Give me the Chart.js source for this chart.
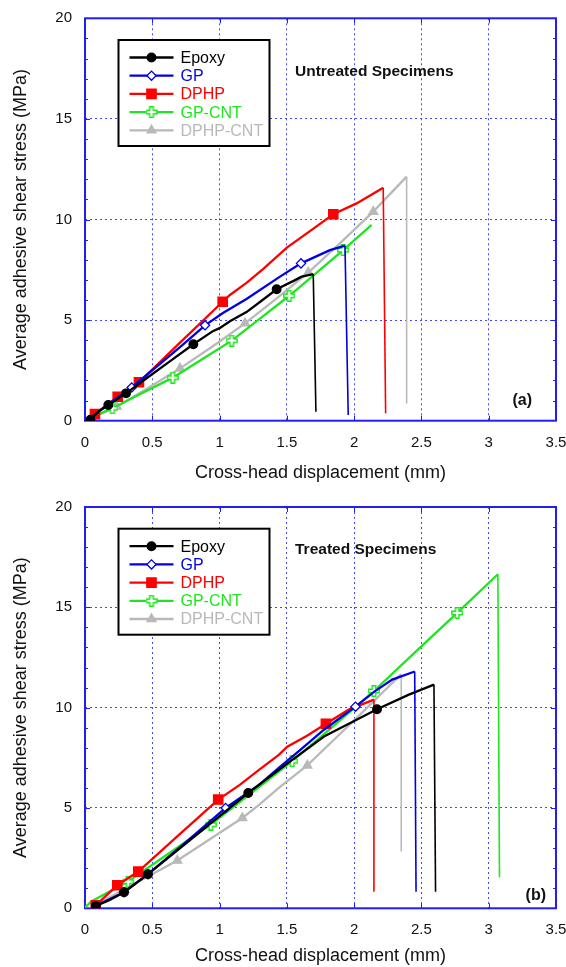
<!DOCTYPE html>
<html>
<head>
<meta charset="utf-8">
<script src="https://cdn.jsdelivr.net/npm/chart.js@4.4.1/dist/chart.umd.min.js"></script>
<style>
  body { margin: 0; background: #fff; width: 566px; height: 967px; position: relative; overflow: hidden; }
  canvas { position: absolute; left: 0; }
  #chartA { top: 0; }
  #chartB { top: 487px; }
</style>
</head>
<body>
<canvas id="chartA" width="566" height="487"></canvas>
<canvas id="chartB" width="566" height="480"></canvas>
<script>
// ---- (a) untreated specimens ----
const epoxyA_x = [0.04, 0.10, 0.173, 0.305, 0.45, 0.62, 0.805, 0.95, 1.0, 1.08, 1.2, 1.3, 1.424, 1.55, 1.61, 1.696, 1.716];
const epoxyA_y = [0.05, 0.45, 0.78, 1.36, 2.07, 2.9, 3.8, 4.45, 4.6, 4.95, 5.4, 5.9, 6.53, 6.95, 7.16, 7.29, 0.45];
const epoxyA_mk = [0, 2, 3, 6, 12];

const gpA_x = [0.05, 0.2, 0.347, 0.706, 0.892, 1.025, 1.2, 1.449, 1.605, 1.82, 1.932, 1.956];
const gpA_y = [0.2, 0.95, 1.65, 3.66, 4.74, 5.35, 6.05, 7.16, 7.82, 8.48, 8.7, 0.28];
const gpA_mk = [2, 4, 8];

const dphpA_x = [0.074, 0.243, 0.401, 0.706, 1.023, 1.077, 1.2, 1.325, 1.5, 1.7, 1.845, 2.018, 2.216, 2.234];
const dphpA_y = [0.33, 1.19, 1.91, 3.88, 5.91, 6.25, 6.85, 7.55, 8.6, 9.56, 10.26, 10.8, 11.58, 0.37];
const dphpA_mk = [0, 1, 2, 4, 10];

const gpcntA_x = [0.059, 0.203, 0.4, 0.652, 0.85, 1.09, 1.3, 1.518, 1.7, 1.919, 2.13];
const gpcntA_y = [0.2, 0.62, 1.29, 2.14, 2.97, 3.98, 5.07, 6.21, 7.24, 8.48, 9.73];
const gpcntA_mk = [1, 3, 5, 7, 9];

const dphpcntA_x = [0.05, 0.236, 0.45, 0.706, 0.95, 1.189, 1.42, 1.659, 1.9, 2.142, 2.39, 2.39];
const dphpcntA_y = [0.12, 0.7, 1.55, 2.6, 3.7, 4.84, 6.05, 7.36, 8.85, 10.39, 12.13, 0.86];
const dphpcntA_mk = [1, 3, 5, 7, 9];

// ---- (b) treated specimens ----
const epoxyB_x = [0.05, 0.08, 0.18, 0.29, 0.468, 0.7, 0.95, 1.213, 1.5, 1.776, 2.0, 2.17, 2.407, 2.593, 2.605];
const epoxyB_y = [0.0, 0.12, 0.4, 0.8, 1.7, 2.96, 4.32, 5.75, 7.2, 8.56, 9.33, 9.92, 10.65, 11.15, 0.83];
const epoxyB_mk = [1, 3, 4, 7, 11];

const gpB_x = [0.05, 0.15, 0.29, 0.468, 0.75, 1.045, 1.293, 1.44, 1.6, 1.776, 2.01, 2.15, 2.283, 2.45, 2.46];
const gpB_y = [0.05, 0.35, 0.8, 1.7, 3.3, 5.0, 6.15, 7.0, 7.9, 8.9, 10.05, 10.8, 11.4, 11.8, 0.83];
const gpB_mk = [2, 3, 5, 10];

const dphpB_x = [0.08, 0.24, 0.396, 0.7, 0.99, 1.15, 1.293, 1.44, 1.503, 1.65, 1.79, 1.96, 2.147, 2.147];
const dphpB_y = [0.15, 1.15, 1.83, 3.67, 5.42, 6.15, 6.9, 7.65, 8.05, 8.6, 9.2, 9.9, 10.4, 0.83];
const dphpB_mk = [0, 1, 2, 4, 10];

const gpcntB_x = [0.0, 0.05, 0.32, 0.6, 0.934, 1.2, 1.54, 1.85, 2.147, 2.45, 2.766, 3.068, 3.08];
const gpcntB_y = [0.05, 0.35, 1.33, 2.63, 4.17, 5.55, 7.33, 9.1, 10.83, 12.74, 14.72, 16.65, 1.55];
const gpcntB_mk = [2, 4, 6, 8, 10];

const dphpcntB_x = [0.05, 0.3, 0.686, 0.95, 1.169, 1.293, 1.44, 1.652, 1.85, 2.036, 2.2, 2.35, 2.35];
const dphpcntB_y = [0.05, 0.97, 2.38, 3.54, 4.5, 5.15, 6.0, 7.12, 8.4, 9.6, 10.68, 11.67, 2.83];
const dphpcntB_mk = [2, 4, 7];

const seriesNames = ['Epoxy', 'GP', 'DPHP', 'GP-CNT', 'DPHP-CNT'];
const xTicks = [0, 0.5, 1, 1.5, 2, 2.5, 3, 3.5];
const yTicks = [0, 5, 10, 15, 20];

const FONT = "'Liberation Sans', Arial, sans-serif";
const FRAME = '#1f1ff0';
const GRID = '#4646ff';

// open "plus" marker used for GP-CNT
function plusIcon(color) {
  const c = document.createElement('canvas');
  c.width = 12; c.height = 12;
  const g = c.getContext('2d');
  const p = [[4.2,0.8],[7.8,0.8],[7.8,4.2],[11.2,4.2],[11.2,7.8],[7.8,7.8],[7.8,11.2],[4.2,11.2],[4.2,7.8],[0.8,7.8],[0.8,4.2],[4.2,4.2]];
  g.beginPath();
  p.forEach((q, i) => i ? g.lineTo(q[0], q[1]) : g.moveTo(q[0], q[1]));
  g.closePath();
  g.fillStyle = '#fff';
  g.fill();
  g.lineWidth = 1.4;
  g.strokeStyle = color;
  g.stroke();
  return c;
}

const styles = [
  { color: '#000000', fill: '#000000', pointStyle: 'circle', radius: 4.3 },
  { color: '#0000e6', fill: '#ffffff', pointStyle: 'rectRot', radius: 4.6 },
  { color: '#ff0000', fill: '#ff0000', pointStyle: 'rect', radius: 6.6 },
  { color: '#1ee61e', fill: '#ffffff', pointStyle: plusIcon('#1ee61e'), radius: 5 },
  { color: '#b9b9b9', fill: '#b9b9b9', pointStyle: 'triangle', radius: 5.2 }
];

function makeDataset(i, xs, ys, marks, drop) {
  const st = styles[i];
  const last = xs.length - 1;
  return {
    label: seriesNames[i],
    data: xs.map((x, k) => ({ x: x, y: ys[k] })),
    borderColor: st.color,
    backgroundColor: st.fill,
    pointBackgroundColor: st.fill,
    pointBorderColor: st.color,
    pointBorderWidth: 1.3,
    pointStyle: st.pointStyle,
    pointRadius: c => marks.includes(c.dataIndex) ? st.radius : 0,
    pointHoverRadius: 0,
    borderWidth: 2.3,
    tension: 0,
    fill: false,
    segment: {
      borderWidth: c => (drop && c.p1DataIndex === last) ? 1.6 : 2.3
    }
  };
}

// frame, inward ticks, legend and labels
const decor = {
  id: 'decor',
  beforeDatasetsDraw(chart) {
    const { ctx, chartArea: a, scales: { x, y } } = chart;
    ctx.save();
    ctx.strokeStyle = FRAME;
    ctx.lineWidth = 1;
    ctx.beginPath();
    for (let v = y.min + 1; v < y.max; v++) {
      const py = Math.round(y.getPixelForValue(v)) + 0.5;
      const L = v % 5 ? 3 : 5;
      ctx.moveTo(a.left, py); ctx.lineTo(a.left + L, py);
      ctx.moveTo(a.right, py); ctx.lineTo(a.right - L, py);
    }
    x.ticks.forEach(t => {
      const px = Math.round(x.getPixelForValue(t.value)) + 0.5;
      ctx.moveTo(px, a.bottom); ctx.lineTo(px, a.bottom - 5);
      ctx.moveTo(px, a.top); ctx.lineTo(px, a.top + 5);
    });
    ctx.stroke();
    ctx.lineWidth = 2;
    ctx.strokeRect(a.left, a.top, a.right - a.left, a.bottom - a.top);
    ctx.restore();
  },
  afterDatasetsDraw(chart, args, o) {
    const { ctx, chartArea: a } = chart;
    ctx.save();
    // legend box
    const bx = a.left + 33.5, by = a.top + 21.7, bw = 151, bh = 106;
    ctx.fillStyle = '#fff';
    ctx.fillRect(bx, by, bw, bh);
    ctx.lineWidth = 2;
    ctx.strokeStyle = '#000';
    ctx.strokeRect(bx, by, bw, bh);
    ctx.font = '16px ' + FONT;
    ctx.textBaseline = 'middle';
    chart.data.datasets.forEach((ds, i) => {
      const st = styles[i];
      const ly = by + 17.5 + i * 18.2;
      ctx.strokeStyle = st.color;
      ctx.lineWidth = 2.3;
      ctx.beginPath();
      ctx.moveTo(bx + 11, ly); ctx.lineTo(bx + 55, ly);
      ctx.stroke();
      ctx.fillStyle = st.fill;
      ctx.lineWidth = 1.3;
      Chart.helpers.drawPoint(ctx, { pointStyle: st.pointStyle, radius: st.radius, rotation: 0, borderWidth: 1.3 }, bx + 33, ly);
      ctx.fillStyle = st.color;
      ctx.textAlign = 'left';
      ctx.fillText(ds.label, bx + 62, ly + 1);
    });
    // panel title and tag
    ctx.fillStyle = '#111';
    ctx.font = 'bold 15.5px ' + FONT;
    ctx.textAlign = 'left';
    ctx.fillText(o.title, a.left + 210, a.top + o.titleDy);
    ctx.font = 'bold 16px ' + FONT;
    ctx.textAlign = 'right';
    ctx.fillText(o.tag, a.right - o.tagDx, a.bottom - o.tagDy);
    ctx.restore();
  }
};

function makeChart(id, datasets, cfg) {
  return new Chart(document.getElementById(id), {
    type: 'line',
    data: { datasets: datasets },
    plugins: [decor],
    options: {
      responsive: false,
      animation: false,
      devicePixelRatio: 1,
      events: [],
      layout: { padding: { top: cfg.top, right: 10, left: 0, bottom: 0 } },
      plugins: {
        legend: { display: false },
        tooltip: { enabled: false },
        decor: cfg.decor
      },
      scales: {
        x: {
          type: 'linear', min: 0, max: 3.5,
          afterBuildTicks: s => { s.ticks = xTicks.map(v => ({ value: v })); },
          ticks: { padding: 13, color: '#111', font: { family: FONT, size: 15 }, maxRotation: 0, autoSkip: false,
                   callback: v => String(v) },
          grid: { color: GRID, lineWidth: 1, drawTicks: false },
          border: { display: false, dash: [2, 3] },
          title: { display: true, text: 'Cross-head displacement (mm)', color: '#111', font: { family: FONT, size: 18 }, padding: { top: 0, bottom: cfg.xTitlePad } },
          afterFit: s => { s.height = cfg.xh; s.paddingLeft = 0; s.paddingRight = 0; }
        },
        y: {
          type: 'linear', min: 0, max: 20,
          afterBuildTicks: s => { s.ticks = yTicks.map(v => ({ value: v })); },
          ticks: { padding: 13, color: '#111', font: { family: FONT, size: 15 }, callback: v => String(v) },
          grid: { color: GRID, lineWidth: 1, drawTicks: false },
          border: { display: false, dash: [2, 3] },
          title: { display: true, text: 'Average adhesive shear stress (MPa)', color: '#111', font: { family: FONT, size: 18 }, padding: { top: 10, bottom: 0 } },
          afterFit: s => { s.width = 85; s.paddingTop = 0; s.paddingBottom = 0; }
        }
      }
    }
  });
}

makeChart('chartA', [
  makeDataset(0, epoxyA_x, epoxyA_y, epoxyA_mk, true),
  makeDataset(1, gpA_x, gpA_y, gpA_mk, true),
  makeDataset(2, dphpA_x, dphpA_y, dphpA_mk, true),
  makeDataset(3, gpcntA_x, gpcntA_y, gpcntA_mk, false),
  makeDataset(4, dphpcntA_x, dphpcntA_y, dphpcntA_mk, true)
], { top: 18.3, xh: 66.3, xTitlePad: 3, decor: { title: 'Untreated Specimens', titleDy: 53.5, tag: '(a)', tagDx: 24, tagDy: 20 } });

makeChart('chartB', [
  makeDataset(0, epoxyB_x, epoxyB_y, epoxyB_mk, true),
  makeDataset(1, gpB_x, gpB_y, gpB_mk, true),
  makeDataset(2, dphpB_x, dphpB_y, dphpB_mk, true),
  makeDataset(3, gpcntB_x, gpcntB_y, gpcntB_mk, true),
  makeDataset(4, dphpcntB_x, dphpcntB_y, dphpcntB_mk, true)
], { top: 20, xh: 58.7, xTitlePad: 0, decor: { title: 'Treated Specimens', titleDy: 43, tag: '(b)', tagDx: 10, tagDy: 13 } });
</script>
</body>
</html>
